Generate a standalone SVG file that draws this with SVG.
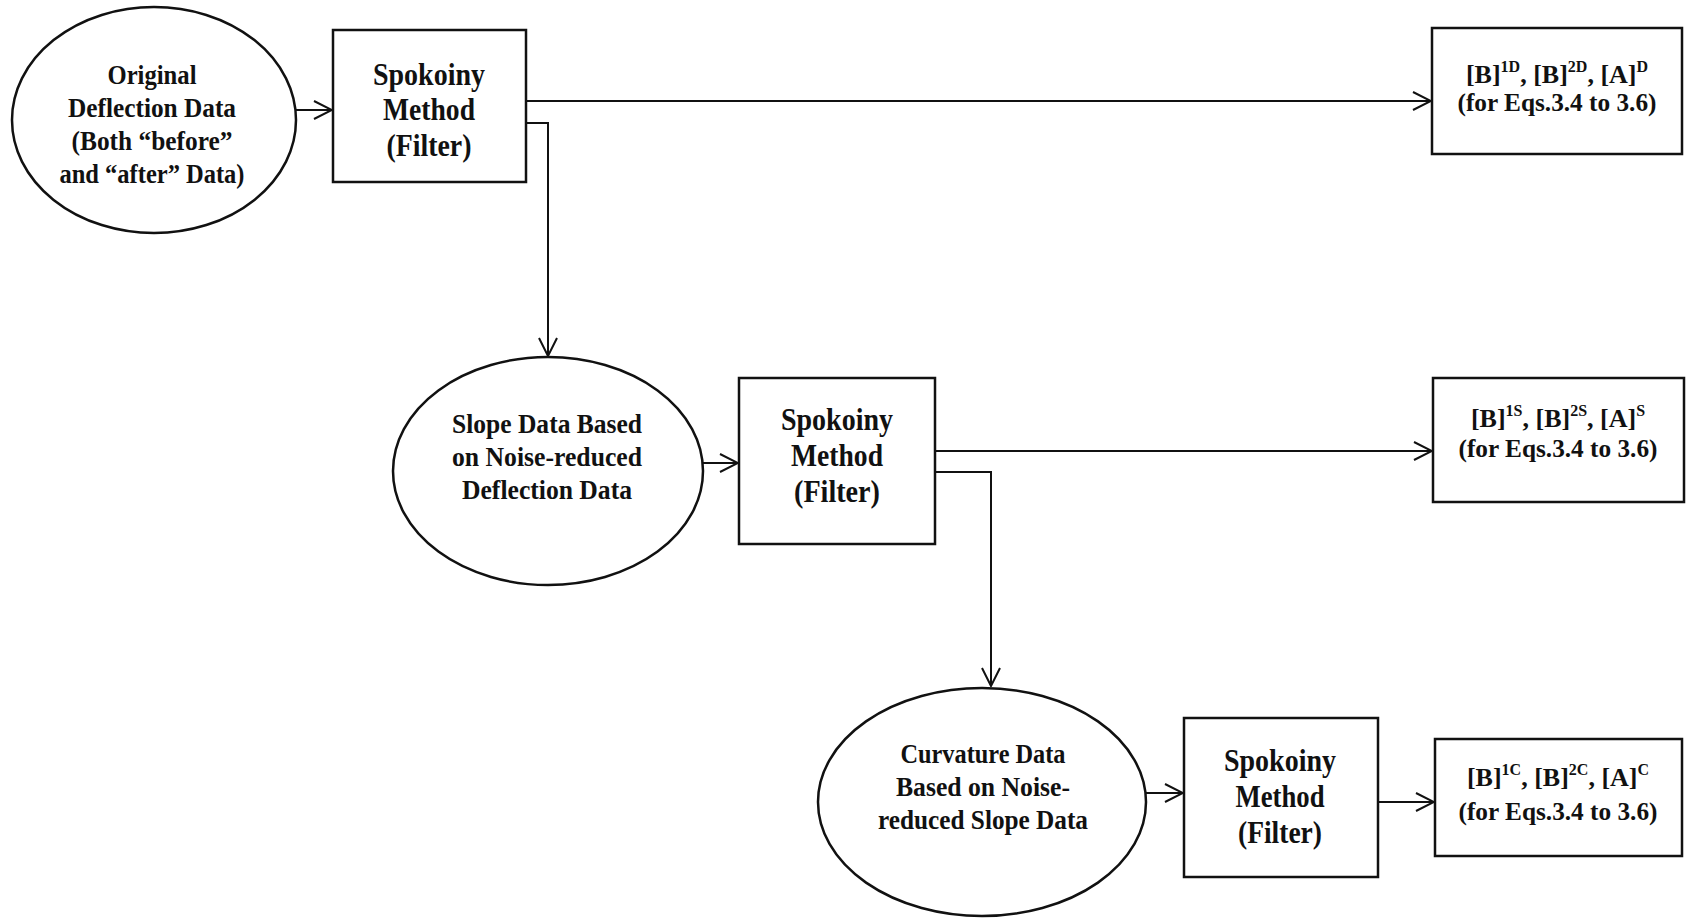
<svg xmlns="http://www.w3.org/2000/svg" width="1687" height="918" viewBox="0 0 1687 918">
<defs>
<style>
.shape{fill:#fff;stroke:#111;stroke-width:2.5}
.conn{fill:none;stroke:#111;stroke-width:2}
text{font-family:"Liberation Serif","Times New Roman",serif;font-weight:bold;fill:#111;text-anchor:middle}
.el{font-size:28px}
.bx{font-size:31px}
.out{font-size:26px}
.sup{font-size:16px}
</style>
<marker id="ah" viewBox="0 0 20 20" refX="19" refY="10" markerWidth="20" markerHeight="20" markerUnits="userSpaceOnUse" orient="auto">
<path d="M1,1 L19,10 L1,19" fill="none" stroke="#111" stroke-width="2"/>
</marker>
</defs>
<rect width="1687" height="918" fill="#fff"/>
<g id="connectors">
<path class="conn" d="M296,110 H332" marker-end="url(#ah)"/>
<path class="conn" d="M526,101 H1431" marker-end="url(#ah)"/>
<path class="conn" d="M526,123 H548 V356" marker-end="url(#ah)"/>
<path class="conn" d="M703,463 H738" marker-end="url(#ah)"/>
<path class="conn" d="M935,451 H1432" marker-end="url(#ah)"/>
<path class="conn" d="M935,472 H991 V686" marker-end="url(#ah)"/>
<path class="conn" d="M1146,793 H1183" marker-end="url(#ah)"/>
<path class="conn" d="M1378,802 H1434" marker-end="url(#ah)"/>
</g>
<g id="orig">
<ellipse class="shape" cx="154" cy="120" rx="142" ry="113"/>
<text class="el" x="152" y="84" textLength="89" lengthAdjust="spacingAndGlyphs">Original</text>
<text class="el" x="152" y="117" textLength="168" lengthAdjust="spacingAndGlyphs">Deflection Data</text>
<text class="el" x="152" y="150" textLength="161" lengthAdjust="spacingAndGlyphs">(Both “before”</text>
<text class="el" x="152" y="183" textLength="185" lengthAdjust="spacingAndGlyphs">and “after” Data)</text>
</g>
<g id="filter1">
<rect class="shape" x="333" y="30" width="193" height="152"/>
<text class="bx" x="429" y="85" textLength="112" lengthAdjust="spacingAndGlyphs">Spokoiny</text>
<text class="bx" x="429" y="120" textLength="92" lengthAdjust="spacingAndGlyphs">Method</text>
<text class="bx" x="429" y="156" textLength="85" lengthAdjust="spacingAndGlyphs">(Filter)</text>
</g>
<g id="out1">
<rect class="shape" x="1432" y="28" width="250" height="126"/>
<text class="out" x="1557" y="83">[B]<tspan class="sup" dy="-11">1D</tspan><tspan dy="11">, [B]</tspan><tspan class="sup" dy="-11">2D</tspan><tspan dy="11">, [A]</tspan><tspan class="sup" dy="-11">D</tspan></text>
<text class="out" x="1557" y="111" textLength="199" lengthAdjust="spacingAndGlyphs">(for Eqs.3.4 to 3.6)</text>
</g>
<g id="slope">
<ellipse class="shape" cx="548" cy="471" rx="155" ry="114"/>
<text class="el" x="547" y="433" textLength="190" lengthAdjust="spacingAndGlyphs">Slope Data Based</text>
<text class="el" x="547" y="466" textLength="190" lengthAdjust="spacingAndGlyphs">on Noise-reduced</text>
<text class="el" x="547" y="499" textLength="170" lengthAdjust="spacingAndGlyphs">Deflection Data</text>
</g>
<g id="filter2">
<rect class="shape" x="739" y="378" width="196" height="166"/>
<text class="bx" x="837" y="430" textLength="112" lengthAdjust="spacingAndGlyphs">Spokoiny</text>
<text class="bx" x="837" y="466" textLength="92" lengthAdjust="spacingAndGlyphs">Method</text>
<text class="bx" x="837" y="502" textLength="86" lengthAdjust="spacingAndGlyphs">(Filter)</text>
</g>
<g id="out2">
<rect class="shape" x="1433" y="378" width="251" height="124"/>
<text class="out" x="1558" y="427">[B]<tspan class="sup" dy="-11">1S</tspan><tspan dy="11">, [B]</tspan><tspan class="sup" dy="-11">2S</tspan><tspan dy="11">, [A]</tspan><tspan class="sup" dy="-11">S</tspan></text>
<text class="out" x="1558" y="457" textLength="199" lengthAdjust="spacingAndGlyphs">(for Eqs.3.4 to 3.6)</text>
</g>
<g id="curv">
<ellipse class="shape" cx="982" cy="802" rx="164" ry="114"/>
<text class="el" x="983" y="763" textLength="165" lengthAdjust="spacingAndGlyphs">Curvature Data</text>
<text class="el" x="983" y="796" textLength="174" lengthAdjust="spacingAndGlyphs">Based on Noise-</text>
<text class="el" x="983" y="829" textLength="210" lengthAdjust="spacingAndGlyphs">reduced Slope Data</text>
</g>
<g id="filter3">
<rect class="shape" x="1184" y="718" width="194" height="159"/>
<text class="bx" x="1280" y="771" textLength="112" lengthAdjust="spacingAndGlyphs">Spokoiny</text>
<text class="bx" x="1280" y="807" textLength="89" lengthAdjust="spacingAndGlyphs">Method</text>
<text class="bx" x="1280" y="843" textLength="84" lengthAdjust="spacingAndGlyphs">(Filter)</text>
</g>
<g id="out3">
<rect class="shape" x="1435" y="739" width="247" height="117"/>
<text class="out" x="1558" y="786">[B]<tspan class="sup" dy="-11">1C</tspan><tspan dy="11">, [B]</tspan><tspan class="sup" dy="-11">2C</tspan><tspan dy="11">, [A]</tspan><tspan class="sup" dy="-11">C</tspan></text>
<text class="out" x="1558" y="820" textLength="199" lengthAdjust="spacingAndGlyphs">(for Eqs.3.4 to 3.6)</text>
</g>
</svg>
